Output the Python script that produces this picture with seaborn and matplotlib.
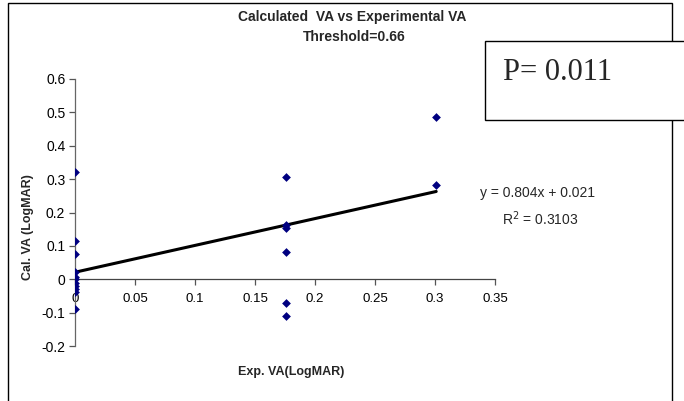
import numpy as np
import pandas as pd
import matplotlib
matplotlib.use("Agg")
import matplotlib.pyplot as plt
import seaborn as sns
from matplotlib.patches import Rectangle

# ---- data ----
exp_va = [0, 0, 0, 0, 0, 0, 0, 0, 0, 0, 0,
          0.176, 0.176, 0.176, 0.176, 0.176, 0.176,
          0.301, 0.301]
cal_va = [0.32, 0.114, 0.075, 0.021, 0.008, 0.0, -0.01, -0.02, -0.028, -0.038, -0.09,
          0.306, 0.162, 0.153, 0.081, -0.072, -0.11,
          0.487, 0.283]
slope = 0.804
intercept = 0.021
r_squared = "0.3103"
p_value = "0.011"
x_ticks = [0, 0.05, 0.1, 0.15, 0.2, 0.25, 0.3, 0.35]
y_ticks = [-0.2, -0.1, 0, 0.1, 0.2, 0.3, 0.4, 0.5, 0.6]
title = "Calculated  VA vs Experimental VA"
subtitle = "Threshold=0.66"
x_label = "Exp. VA(LogMAR)"
y_label = "Cal. VA (LogMAR)"

df = pd.DataFrame({"exp": exp_va, "cal": cal_va})
fit_x = [min(exp_va), max(exp_va)]
fit = pd.DataFrame({"x": fit_x, "y": [slope * v + intercept for v in fit_x]})

sns.set_theme(style="white")
plt.rcParams["font.family"] = ["Liberation Sans", "DejaVu Sans"]

W, H = 684, 401
fig = plt.figure(figsize=(W / 100, H / 100), dpi=100)
ax = fig.add_axes([75 / W, 1 - 346 / H, (495 - 75) / W, (346 - 79) / H])
ax.set_facecolor("none")

sns.lineplot(data=fit, x="x", y="y", ax=ax, color="black", linewidth=2.2, zorder=2)
sns.scatterplot(data=df, x="exp", y="cal", ax=ax, marker="D", color="#000080",
                s=20, edgecolor="#000080", linewidth=0, zorder=3)

ax.set_xlim(0, 0.35)
ax.set_ylim(-0.2, 0.6)
ax.set_xticks(x_ticks)
ax.set_xticklabels([f"{v:g}" for v in x_ticks])
ax.set_yticks(y_ticks)
ax.set_yticklabels([f"{v:g}" for v in y_ticks])
ax.set_xlabel("")
ax.set_ylabel("")

for s in ["top", "right"]:
    ax.spines[s].set_visible(False)
ax.spines["bottom"].set_position(("data", 0))
ax.spines["left"].set_color("#666666")
ax.spines["bottom"].set_color("#444444")
ax.spines["left"].set_linewidth(0.9)
ax.spines["bottom"].set_linewidth(0.9)
ax.tick_params(axis="both", which="both", direction="out", length=4, width=0.9,
               color="#555555", labelcolor="black")
ax.tick_params(axis="x", pad=6, labelsize=9.5)
ax.tick_params(axis="y", pad=3, labelsize=10)
ax.tick_params(left=True, bottom=True)

# outer chart frame
fig.patches.append(Rectangle((8 / W, -0.01), (672 - 8) / W, 1 - 3 / H + 0.01,
                             transform=fig.transFigure, fill=False,
                             edgecolor="black", linewidth=1.0, zorder=0))

# titles
fig.text(352 / W, 1 - 17 / H, title, ha="center", va="center",
         fontsize=10, fontweight="bold")
fig.text(354 / W, 1 - 37 / H, subtitle, ha="center", va="center",
         fontsize=10, fontweight="bold")
fig.text(291 / W, 1 - 372 / H, x_label, ha="center", va="center",
         fontsize=9, fontweight="bold")
fig.text(28 / W, 1 - 227 / H, y_label, ha="center", va="center",
         fontsize=9, fontweight="bold", rotation=90)

# regression equation
fig.text(480 / W, 1 - 193 / H, f"y = {slope}x + {intercept}", ha="left",
         va="center", fontsize=10)
fig.text(502 / W, 1 - 219 / H, f"R$^2$ = {r_squared}", ha="left", va="center",
         fontsize=10)

# P-value box
fig.patches.append(Rectangle((485 / W, 1 - 120 / H), (700 - 485) / W, (120 - 41) / H,
                             transform=fig.transFigure, facecolor="white",
                             edgecolor="black", linewidth=1.0, zorder=5))
fig.text(503 / W, 1 - 73 / H, f"P= {p_value}", ha="left", va="center",
         fontsize=22, family=["Liberation Serif", "DejaVu Serif"], zorder=6)

fig.savefig("out.png", dpi=100)
